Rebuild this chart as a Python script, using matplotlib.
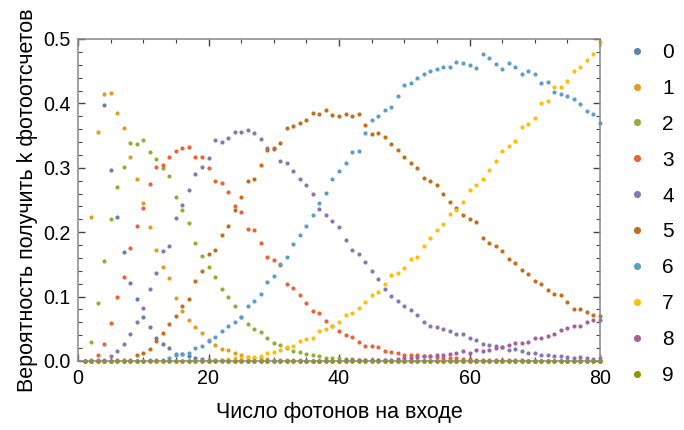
import numpy as np
import matplotlib
matplotlib.use("Agg")
import matplotlib.pyplot as plt
from matplotlib.ticker import MultipleLocator, FormatStrFormatter

plt.rcParams['font.family'] = ['Liberation Sans', 'DejaVu Sans']

nan = np.nan
photons = list(range(1, 81))
labels = ["0", "1", "2", "3", "4", "5", "6", "7", "8", "9"]
colors = ["#5E81B5", "#E19C24", "#8FB032", "#EB6235", "#8778B3",
          "#C56E1A", "#5D9EC7", "#FFBF00", "#A5609D", "#929600"]

p0 = [nan, nan, nan, 0.397, 0.296, 0.223, 0.170, 0.121, 0.096, 0.069,
      0.053, 0.036, 0.027, 0.020, 0.011, 0.011, 0.007, 0.005, 0.003, 0.002,
      0.001, 0.001, 0, 0, 0, 0, 0, 0, 0, 0,
      0, 0, 0, 0, 0, 0, 0, 0, 0, 0,
      0, 0, 0, 0, 0, 0, 0, 0, 0, 0,
      0, 0, 0, 0, 0, 0, 0, 0, 0, 0,
      0, 0, 0, 0, 0, 0, 0, 0, 0, 0,
      0, 0, 0, 0, 0, 0, 0, 0, 0, 0]
p1 = [0.0, 0.224, 0.356, 0.415, 0.416, 0.385, 0.362, 0.316, 0.283, 0.246,
      0.208, 0.173, 0.146, 0.129, 0.098, 0.077, 0.064, 0.053, 0.044, 0.033,
      0.025, 0.018, 0.017, 0.012, 0.009, 0.006, 0.005, 0.004, 0.003, 0.002,
      0.002, 0.001, 0.001, 0.001, 0, 0, 0, 0, 0, 0,
      0, 0, 0, 0, 0, 0, 0, 0, 0, 0,
      0, 0, 0, 0, 0, 0, 0, 0, 0, 0,
      0, 0, 0, 0, 0, 0, 0, 0, 0, 0,
      0, 0, 0, 0, 0, 0, 0, 0, 0, 0]
p2 = [0.0, 0.030, 0.090, 0.155, 0.220, 0.270, 0.302, 0.338, 0.337, 0.343,
      0.325, 0.314, 0.299, 0.288, 0.255, 0.235, 0.215, 0.183, 0.163, 0.146,
      0.131, 0.112, 0.099, 0.085, 0.069, 0.057, 0.049, 0.045, 0.036, 0.028,
      0.025, 0.020, 0.016, 0.014, 0.011, 0.009, 0.008, 0.005, 0.005, 0.004,
      0.003, 0.003, 0.002, 0.002, 0.001, 0.001, 0.001, 0, 0, 0,
      0, 0, 0, 0, 0, 0, 0, 0, 0, 0,
      0, 0, 0, 0, 0, 0, 0, 0, 0, 0,
      0, 0, 0, 0, 0, 0, 0, 0, 0, 0]
p3 = [0.0, 0.001, 0.009, 0.026, 0.059, 0.100, 0.131, 0.176, 0.210, 0.238,
      0.275, 0.301, 0.305, 0.316, 0.326, 0.330, 0.332, 0.317, 0.317, 0.300,
      0.280, 0.277, 0.263, 0.241, 0.231, 0.205, 0.203, 0.183, 0.162, 0.157,
      0.149, 0.120, 0.113, 0.103, 0.090, 0.078, 0.074, 0.062, 0.054, 0.046,
      0.040, 0.037, 0.030, 0.024, 0.024, 0.021, 0.016, 0.014, 0.012, 0.010,
      0.009, 0.009, 0.008, 0.007, 0.006, 0.005, 0.004, 0.004, 0.003, 0.003,
      0.002, 0.002, 0.002, 0.001, 0.001, 0.001, 0.001, 0.001, 0, 0,
      0, 0, 0, 0, 0, 0, 0, 0, 0, 0]
p4 = [0.0, 0.0, 0.001, 0.002, 0.007, 0.016, 0.027, 0.042, 0.060, 0.083,
      0.112, 0.136, 0.171, 0.179, 0.222, 0.243, 0.265, 0.290, 0.302, 0.315,
      0.343, 0.340, 0.347, 0.355, 0.355, 0.358, 0.354, 0.345, 0.330, 0.329,
      0.311, 0.307, 0.295, 0.283, 0.274, 0.259, 0.236, 0.227, 0.217, 0.208,
      0.188, 0.173, 0.166, 0.154, 0.140, 0.128, 0.112, 0.101, 0.093, 0.085,
      0.079, 0.071, 0.060, 0.055, 0.053, 0.050, 0.047, 0.042, 0.042, 0.036,
      0.032, 0.027, 0.025, 0.023, 0.022, 0.017, 0.018, 0.015, 0.013, 0.012,
      0.010, 0.009, 0.007, 0.007, 0.006, 0.004, 0.006, 0.005, 0.003, 0.004]
p5 = [0, 0, 0, 0, 0, 0.001, 0.002, 0.002, 0.009, 0.013,
      0.019, 0.031, 0.043, 0.057, 0.070, 0.086, 0.096, 0.124, 0.140, 0.166,
      0.173, 0.196, 0.209, 0.235, 0.255, 0.279, 0.282, 0.304, 0.327, 0.331,
      0.338, 0.362, 0.365, 0.369, 0.375, 0.385, 0.384, 0.389, 0.382, 0.380,
      0.384, 0.381, 0.384, 0.367, 0.353, 0.354, 0.348, 0.337, 0.327, 0.316,
      0.307, 0.300, 0.284, 0.279, 0.273, 0.260, 0.247, 0.237, 0.227, 0.220,
      0.216, 0.191, 0.184, 0.179, 0.171, 0.158, 0.152, 0.142, 0.135, 0.124,
      0.119, 0.111, 0.104, 0.102, 0.091, 0.081, 0.081, 0.076, 0.072, 0.070]
p6 = [0, 0, 0, 0, 0, 0, 0, 0, 0, 0,
      0.001, 0.002, 0.002, 0.005, 0.010, 0.011, 0.012, 0.020, 0.023, 0.031,
      0.037, 0.047, 0.054, 0.061, 0.069, 0.085, 0.093, 0.104, 0.122, 0.132,
      0.151, 0.162, 0.181, 0.195, 0.210, 0.227, 0.246, 0.261, 0.282, 0.295,
      0.307, 0.325, 0.326, 0.354, 0.374, 0.380, 0.389, 0.395, 0.412, 0.428,
      0.431, 0.439, 0.446, 0.450, 0.453, 0.456, 0.457, 0.465, 0.462, 0.459,
      0.455, 0.476, 0.471, 0.461, 0.454, 0.462, 0.456, 0.446, 0.450, 0.445,
      0.431, 0.433, 0.418, 0.415, 0.412, 0.407, 0.399, 0.388, 0.383, 0.370]
p7 = [0, 0, 0, 0, 0, 0, 0, 0, 0, 0,
      0, 0, 0, 0, 0, 0, 0, 0, 0, 0,
      0.001, 0.002, 0.003, 0.004, 0.005, 0.006, 0.006, 0.008, 0.012, 0.014,
      0.017, 0.021, 0.024, 0.031, 0.034, 0.036, 0.046, 0.049, 0.054, 0.060,
      0.071, 0.075, 0.083, 0.091, 0.102, 0.107, 0.119, 0.133, 0.137, 0.144,
      0.158, 0.162, 0.179, 0.191, 0.203, 0.212, 0.229, 0.235, 0.247, 0.265,
      0.273, 0.283, 0.296, 0.311, 0.326, 0.334, 0.342, 0.363, 0.368, 0.378,
      0.401, 0.404, 0.425, 0.425, 0.435, 0.450, 0.456, 0.468, 0.476, 0.495]
p8 = [0, 0, 0, 0, 0, 0, 0, 0, 0, 0,
      0, 0, 0, 0, 0, 0, 0, 0, 0, 0,
      0, 0, 0, 0, 0, 0, 0, 0, 0, 0,
      0, 0, 0, 0, 0, 0, 0, 0, 0, 0,
      0.001, 0.001, 0.001, 0.001, 0.002, 0.002, 0.002, 0.002, 0.003, 0.004,
      0.005, 0.006, 0.007, 0.007, 0.009, 0.010, 0.011, 0.013, 0.016, 0.013,
      0.017, 0.016, 0.017, 0.020, 0.022, 0.025, 0.028, 0.028, 0.030, 0.035,
      0.035, 0.039, 0.042, 0.048, 0.051, 0.055, 0.054, 0.060, 0.063, 0.064]
p9 = [0, 0, 0, 0, 0, 0, 0, 0, 0, 0,
      0, 0, 0, 0, 0, 0, 0, 0, 0, 0,
      0, 0, 0, 0, 0, 0, 0, 0, 0, 0,
      0, 0, 0, 0, 0, 0, 0, 0, 0, 0,
      0, 0, 0, 0, 0, 0, 0, 0, 0, 0,
      0, 0, 0, 0, 0, 0, 0, 0, 0, 0,
      0, 0, 0, 0, 0, 0, 0, 0, 0, 0,
      0, 0, 0, 0, 0, 0, 0, 0, 0, 0]

series = [p0, p1, p2, p3, p4, p5, p6, p7, p8, p9]

fig = plt.figure(figsize=(6.84, 4.30), dpi=100)
ax = fig.add_axes([78/684, 69/430, 522/684, 322/430])

handles = []
for lab, col, vals in zip(labels, colors, series):
    h, = ax.plot(photons, vals, linestyle='none', marker='o', markersize=3.0,
                 markeredgewidth=0, color=col, clip_on=False, label=lab)
    handles.append(h)

ax.set_xlim(0, 80)
ax.set_ylim(0, 0.5)

ax.xaxis.set_major_locator(MultipleLocator(20))
ax.xaxis.set_minor_locator(MultipleLocator(5))
ax.yaxis.set_major_locator(MultipleLocator(0.1))
ax.yaxis.set_minor_locator(MultipleLocator(0.02))
ax.yaxis.set_major_formatter(FormatStrFormatter('%.1f'))

frame_col = '#888888'
for sp in ax.spines.values():
    sp.set_color(frame_col)
    sp.set_linewidth(1.1)

ax.tick_params(which='both', direction='in', top=True, right=True,
               color='#444444', labelsize=14.2, labelcolor='black')
ax.tick_params(which='major', length=5, width=1.0)
ax.tick_params(which='minor', length=3, width=0.8)
ax.tick_params(axis='x', pad=6)
ax.tick_params(axis='y', pad=5)

ax.set_xlabel('Число фотонов на входе', fontsize=15.5, labelpad=10)
ax.set_ylabel('Вероятность получить k фотоотсчетов', fontsize=15.5, labelpad=4)

fig.legend(handles=handles, labels=labels, loc='upper left',
           bbox_to_anchor=(631/684, 1 - 43/430), frameon=False,
           fontsize=15, markerscale=1.7, handlelength=0.6,
           handletextpad=0.9, labelspacing=0.81, borderpad=0, borderaxespad=0)

fig.savefig('out.png', dpi=100)
